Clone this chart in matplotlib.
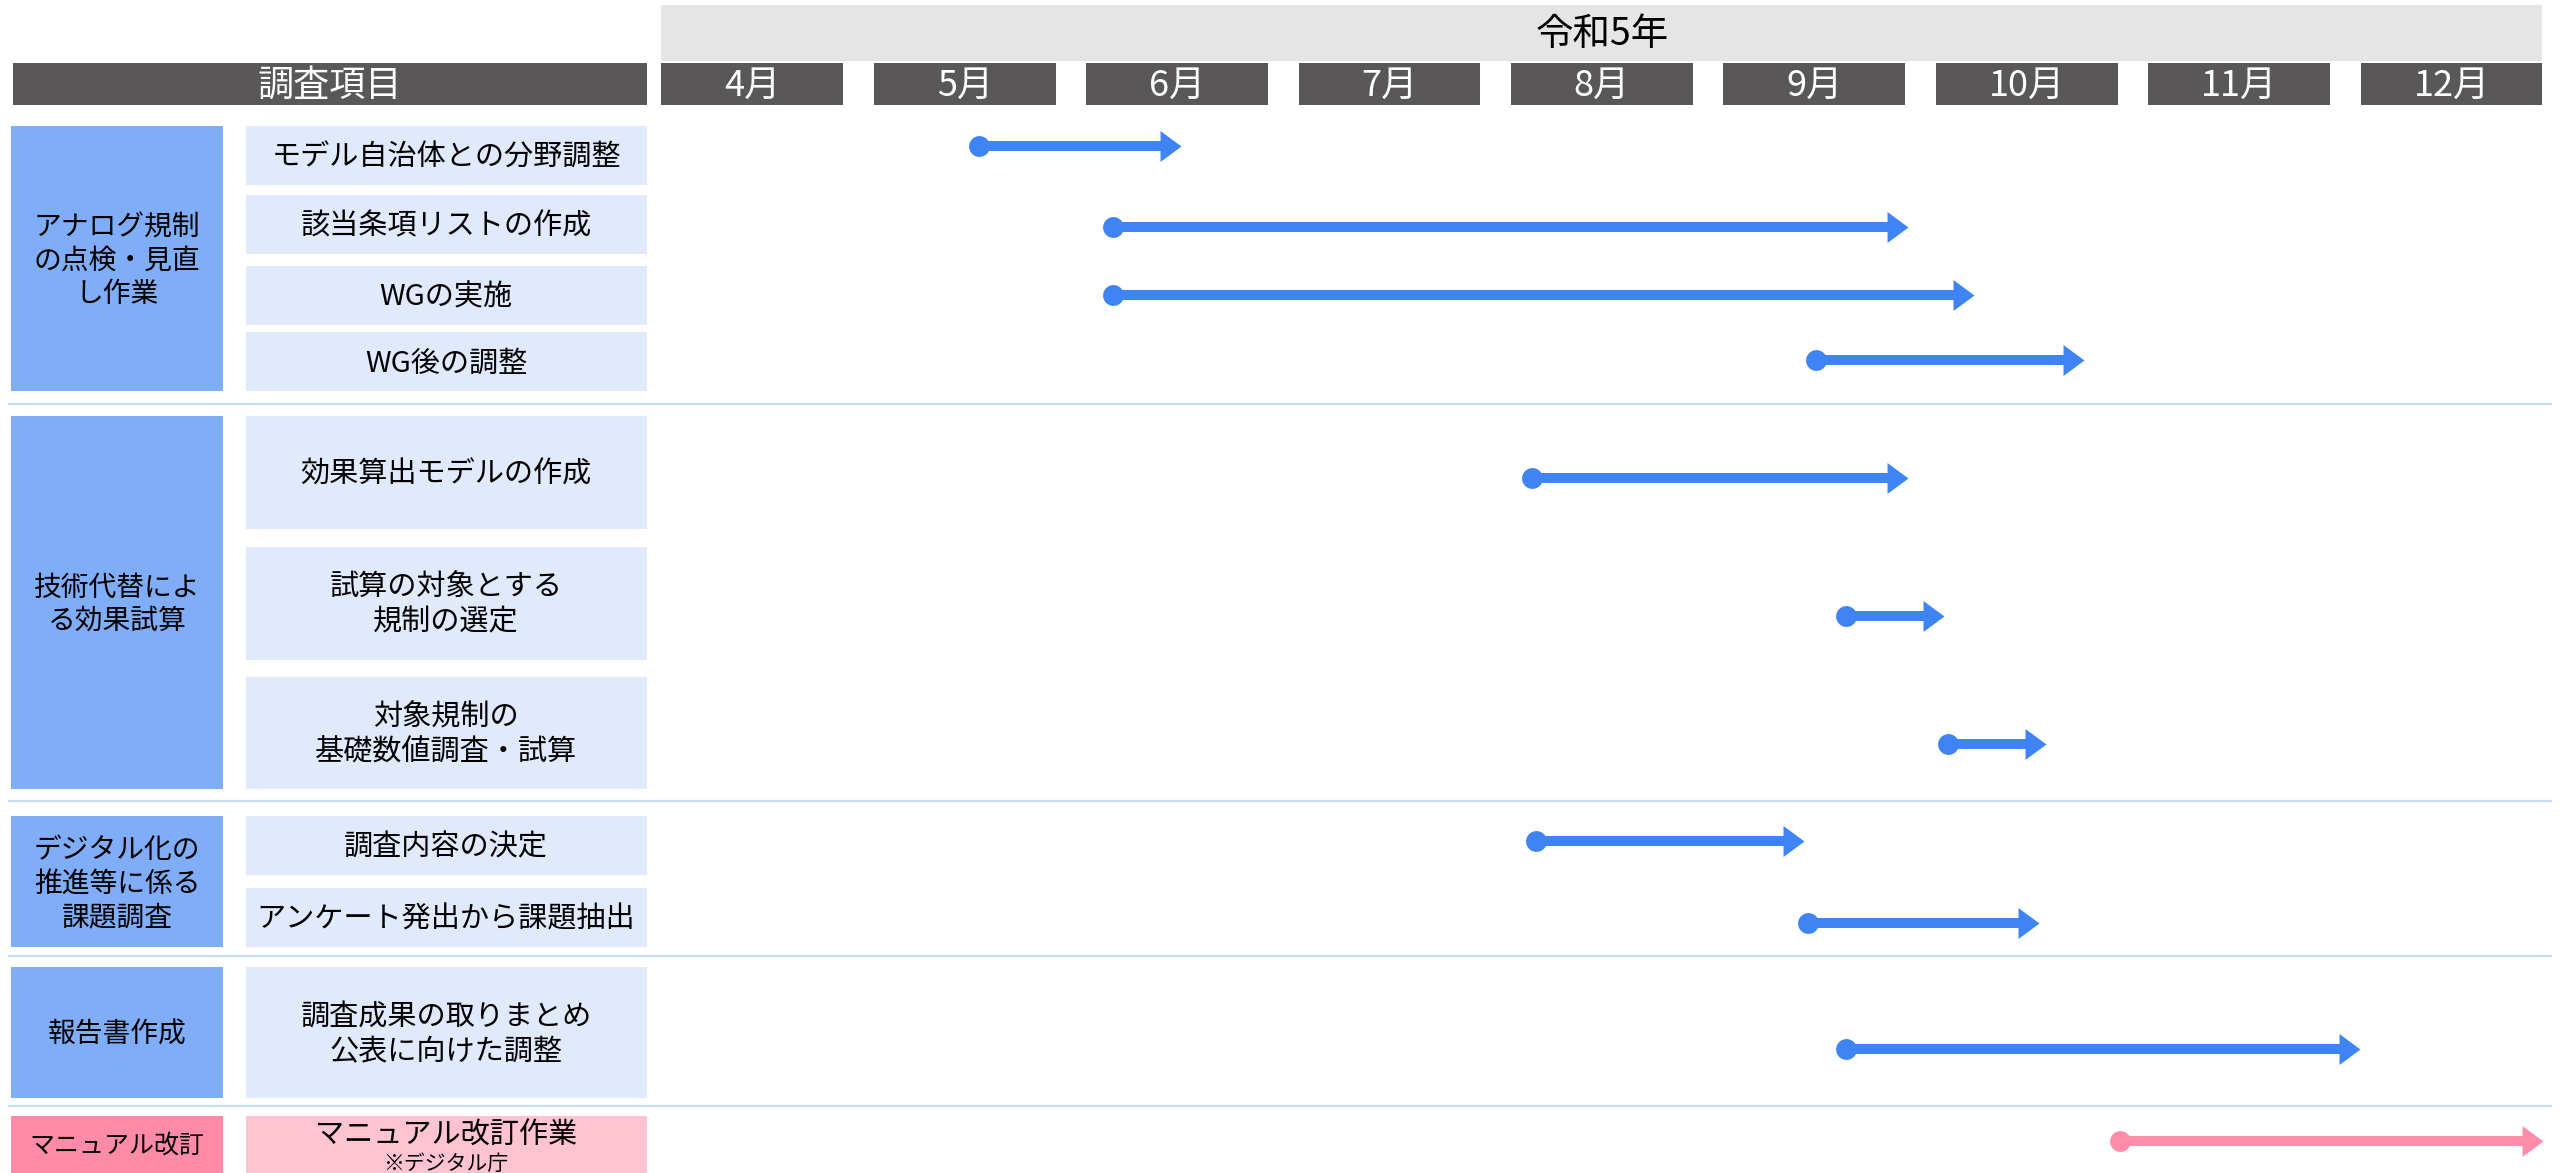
import numpy as np
import matplotlib
matplotlib.use('Agg')
import matplotlib.pyplot as plt
from matplotlib.patches import Rectangle

plt.rcParams['font.family'] = ['Noto Sans CJK JP', 'DejaVu Sans']

# data
year_label = '令和5年'
months = ['4月', '5月', '6月', '7月', '8月', '9月', '10月', '11月', '12月']
month_num = [4, 5, 6, 7, 8, 9, 10, 11, 12]

categories = ['アナログ規制\nの点検・見直\nし作業',
              '技術代替によ\nる効果試算',
              'デジタル化の\n推進等に係る\n課題調査',
              '報告書作成',
              'マニュアル改訂']

tasks = ['モデル自治体との分野調整',
         '該当条項リストの作成',
         'WGの実施',
         'WG後の調整',
         '効果算出モデルの作成',
         '試算の対象とする\n規制の選定',
         '対象規制の\n基礎数値調査・試算',
         '調査内容の決定',
         'アンケート発出から課題抽出',
         '調査成果の取りまとめ\n公表に向けた調整',
         'マニュアル改訂作業']
task_note = '※デジタル庁'
task_cat = [0, 0, 0, 0, 1, 1, 1, 2, 2, 3, 4]

# start / end in month units (arrow start dot, arrow tip)
start_m = [5.07, 5.70, 5.70, 9.01, 7.67, 9.15, 9.63, 7.69, 8.97, 9.15, 10.44]
end_m = [6.02, 9.44, 9.75, 10.27, 9.44, 9.61, 10.09, 8.95, 10.06, 11.57, 12.43]

# layout (pixels, y from top)
W, H = 2562, 1173
cat_box = [(126, 391), (416, 789), (816, 947), (967, 1098), (1116, 1190)]
task_box = [(126, 185), (195, 254), (266, 325), (332, 391), (416, 529), (547, 660),
            (677, 789), (816, 875), (888, 947), (967, 1098), (1116, 1190)]
arrow_y = [146, 227, 295, 360, 478, 616, 744, 841, 923, 1049, 1141]
sep_y = [404, 801, 956, 1106]

# colours
hdr_dark = '#595757'
band_grey = '#E5E5E5'
cat_blue = '#7FADF8'
task_blue = '#E1EAFC'
cat_pink = '#FF8BA9'
task_pink = '#FFC3D2'
arrow_blue = '#3F84F4'
arrow_pink = '#FF8DAA'
sep_col = '#C8DBF8'

fig = plt.figure(figsize=(W / 100, H / 100), dpi=100)

# left table axes in pixel units
ax = fig.add_axes([0, 0, 1, 1])
ax.set_xlim(0, W)
ax.set_ylim(H, 0)
ax.axis('off')

# header
ax.add_patch(Rectangle((13, 63), 634, 42, color=hdr_dark, lw=0))
ax.text(330, 86, '調査項目', color='white', fontsize=26, ha='center', va='center')

for y in sep_y:
    ax.plot([8, 2552], [y, y], color=sep_col, lw=1.6, solid_capstyle='butt')

for i, c in enumerate(categories):
    y0, y1 = cat_box[i]
    col = cat_pink if i == 4 else cat_blue
    ax.add_patch(Rectangle((11, y0), 212, y1 - y0, color=col, lw=0))
    if i == 4:
        ax.text(117, 1146, c, fontsize=18, ha='center', va='center')
    else:
        ax.text(117, (y0 + y1) / 2 + 2, c, fontsize=20, ha='center',
                va='center', linespacing=1.15)

for i, t in enumerate(tasks):
    y0, y1 = task_box[i]
    col = task_pink if task_cat[i] == 4 else task_blue
    ax.add_patch(Rectangle((246, y0), 401, y1 - y0, color=col, lw=0))
    if task_cat[i] == 4:
        ax.text(446, 1135, t, fontsize=21, ha='center', va='center')
        ax.text(446, 1164, task_note, fontsize=15, ha='center', va='center')
    else:
        ax.text(446, (y0 + y1) / 2 + 2, t, fontsize=21, ha='center', va='center',
                linespacing=1.2)

# gantt axes in month units
gx = fig.add_axes([646 / W, 0, 1 - 646 / W, 1])
gx.set_xlim(3.5, 12.52)
gx.set_ylim(H, 0)
gx.axis('off')
gx.patch.set_alpha(0)

half = 0.428
gx.add_patch(Rectangle((month_num[0] - half, 5), month_num[-1] - month_num[0] + 2 * half, 56,
                       color=band_grey, lw=0))
gx.text((month_num[0] + month_num[-1]) / 2, 34, year_label, fontsize=27, ha='center', va='center')
for m, lab in zip(month_num, months):
    gx.add_patch(Rectangle((m - half, 63), 2 * half, 42, color=hdr_dark, lw=0))
    gx.text(m, 86, lab, color='white', fontsize=26, ha='center', va='center')

head = [(-21, -15.5), (0, 0), (-21, 15.5), (-21, -15.5)]
for i in range(len(tasks)):
    col = arrow_pink if task_cat[i] == 4 else arrow_blue
    y = arrow_y[i]
    gx.plot([start_m[i], end_m[i] - 0.05], [y, y], color=col, lw=7.2, solid_capstyle='butt')
    gx.plot(start_m[i], y, marker='o', ms=15, color=col, mew=0)
    gx.plot(end_m[i], y, marker=head, ms=30.2, color=col, mew=0)

fig.savefig('out.png', dpi=100)
